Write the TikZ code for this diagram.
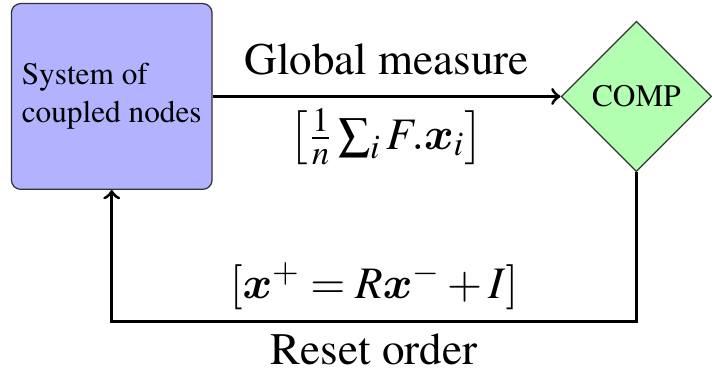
\documentclass[tikz,border=0pt]{standalone}
\usepackage{amsmath}
\usepackage[T1]{fontenc}
\usepackage{mathptmx}
\usetikzlibrary{positioning,shapes.geometric,calc}
\tikzset{
  sysbox/.style = {rectangle, rounded corners=3pt, draw=black!80, fill=blue!30,
                   align=left, minimum width=64.1pt, minimum height=59.4pt},
  comp/.style   = {diamond, draw=black!80, fill=green!30, inner sep=0pt,
                   minimum width=48.1pt, minimum height=48.1pt},
  lbl/.style    = {font=\Large},
  ar/.style     = {->, line width=1pt}
}
% bold math x (cmmib)
\newcommand{\bx}{\text{\usefont{OML}{cmm}{b}{it}x}}
\begin{document}
\begin{tikzpicture}
    % ---- Blocks ----
    \node[sysbox] (sys) {System of\\ coupled nodes};
    \node[comp, right=111.2pt of sys] (cmp) {COMP};

    % ---- Page frame ----
    \useasboundingbox ($(sys.north west)+(-3.44pt,0.94pt)$)
                      rectangle ++(222.5pt,-119.4pt);

    % ---- Measure ----
    \draw[ar] (sys) -- (cmp)
      node[lbl, midway, above=3pt] {Global measure}
      node[lbl, midway, below] {$\left[\frac{1}{n}\sum_i F.\bx_i\right]$};

    % ---- Reset ----
    \draw[ar] (cmp.south) -- ++(0,-47.8pt) -|
      node[lbl, pos=0.25, above] {$[\bx^+ = R\bx^- + I]$}
      node[lbl, pos=0.25, below] {Reset order}
      (sys.south);
\end{tikzpicture}
\end{document}
